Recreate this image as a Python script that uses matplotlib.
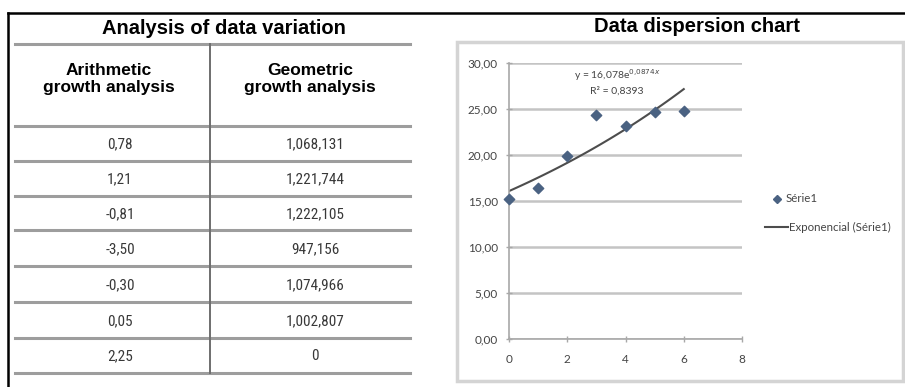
import numpy as np
import matplotlib
matplotlib.use("Agg")
import matplotlib.pyplot as plt
from matplotlib.patches import Rectangle
from matplotlib.lines import Line2D
from matplotlib import font_manager

# ---- table data ----
table_title = "Analysis of data variation"
col_headers = ["Arithmetic\ngrowth analysis", "Geometric\ngrowth analysis"]
arith_growth = [0.78, 1.21, -0.81, -3.50, -0.30, 0.05, 2.25]
geo_growth = [1068131, 1221744, 1222105, 947156, 1074966, 1002807, 0]

# ---- scatter data ----
chart_title = "Data dispersion chart"
periods = [0, 1, 2, 3, 4, 5, 6]
values = [15.2, 16.4, 19.9, 24.3, 23.1, 24.7, 24.8]
trend_a = 16.078
trend_b = 0.0874
r_squared = 0.8393
series_name = "Série1"
trend_name = "Exponencial (Série1)"

W, H = 905, 387
fig = plt.figure(figsize=(W / 100, H / 100), dpi=100)
fig.patch.set_facecolor("white")

names = {f.name for f in font_manager.fontManager.ttflist}
narrow = "Roboto"
for cand in ("Roboto Condensed", "Liberation Sans Narrow", "Open Sans Condensed"):
    if cand in names:
        narrow = cand
        break
head_font = "Liberation Sans"
small_font = "Lato"


def P(x, y):
    return x / W, 1 - y / H


def fline(x0, y0, x1, y1, **kw):
    (a, b), (c, d) = P(x0, y0), P(x1, y1)
    fig.add_artist(Line2D([a, c], [b, d], transform=fig.transFigure, **kw))


def dec(v, nd=2):
    return f"{v:.{nd}f}".replace(".", ",")


# page frame
fline(8, 13, 905, 13, color="black", lw=1.8)
fline(8, 13, 8, 387, color="black", lw=1.8)

# ---- table ----
fig.text(*P(224, 28), table_title, ha="center", va="center",
         fontsize=14.5, fontweight="bold", family=head_font)
rule_y = [44, 126, 161, 196, 230, 266, 302, 338, 373]
for y in rule_y:
    fline(15, y, 410, y, color="#8c8c8c", lw=2.2, alpha=0.85)
fline(210, 44, 210, 373, color="#6e6e6e", lw=1.4)

col_x = [109, 310]
for cx, h in zip(col_x, col_headers):
    fig.text(*P(cx, 79), h, ha="center", va="center", fontsize=12.5,
             fontweight="bold", family=head_font, linespacing=1.1)

for i, (a, g) in enumerate(zip(arith_growth, geo_growth)):
    yc = (rule_y[i + 1] + rule_y[i + 2]) / 2 + 1
    fig.text(*P(120, yc), dec(a), ha="center", va="center", fontsize=11,
             family=narrow, color="#383838")
    fig.text(*P(315, yc), f"{g:,}", ha="center", va="center", fontsize=11,
             family=narrow, color="#383838")

# ---- chart ----
fig.text(*P(697, 27), chart_title, ha="center", va="center",
         fontsize=14.5, fontweight="bold", family=head_font)

# chart frame
x0, y0 = P(457, 381)
x1, y1 = P(903, 42)
fig.add_artist(Rectangle((x0, y0), x1 - x0, y1 - y0, transform=fig.transFigure,
                         facecolor="white", edgecolor="#d4d4d4", lw=2.5, zorder=0))

ax_l, ax_b = P(509, 339)
ax_r, ax_t = P(742, 63)
ax = fig.add_axes([ax_l, ax_b, ax_r - ax_l, ax_t - ax_b])
ax.set_facecolor("none")
ax.set_xlim(0, 8)
ax.set_ylim(0, 30)
ax.set_xticks(np.arange(0, 9, 2))
ax.set_yticks(np.arange(0, 31, 5))
ax.set_yticklabels([dec(v) for v in np.arange(0, 31, 5)])
ax.grid(axis="y", color="#c4c4c4", lw=1.8)
ax.set_axisbelow(True)
for s in ("top", "right"):
    ax.spines[s].set_visible(False)
for s in ("left", "bottom"):
    ax.spines[s].set_color("#a8a8a8")
    ax.spines[s].set_linewidth(1.2)
ax.tick_params(axis="both", colors="#a8a8a8", labelcolor="#444444",
               labelsize=8.5, length=4, width=1, direction="inout")
ax.tick_params(axis="x", pad=9)
ax.tick_params(axis="y", pad=6)
for lab in ax.get_xticklabels() + ax.get_yticklabels():
    lab.set_family(small_font)

ax.scatter(periods, values, marker="D", s=28, color="#4a6282",
           edgecolor="#4a6282", zorder=3, clip_on=False)
xs = np.linspace(min(periods), max(periods), 100)
ax.plot(xs, trend_a * np.exp(trend_b * xs), color="#4d4d4d", lw=1.5, zorder=2)

b_txt = dec(trend_b, 4).replace(",", "{,}")
ax.text(3.7, 28.7, f"y = {dec(trend_a, 3)}e$^{{{b_txt}x}}$",
        ha="center", va="center", fontsize=7.5, family=small_font, color="#444444")
ax.text(3.7, 27.0, f"R² = {dec(r_squared, 4)}", ha="center", va="center",
        fontsize=7.5, family=small_font, color="#444444")

# legend
fig.add_artist(Line2D([P(777, 0)[0]], [P(0, 199)[1]], marker="D", markersize=4.5,
                      color="#4a6282", transform=fig.transFigure, lw=0))
fig.text(*P(786, 199), series_name, ha="left", va="center", fontsize=8.3,
         family=small_font, color="#444444")
fline(765, 227, 788, 227, color="#4d4d4d", lw=1.5)
fig.text(*P(789, 227), trend_name, ha="left", va="center", fontsize=8.3,
         family=small_font, color="#444444")

fig.savefig("out.png", dpi=100, facecolor="white")
